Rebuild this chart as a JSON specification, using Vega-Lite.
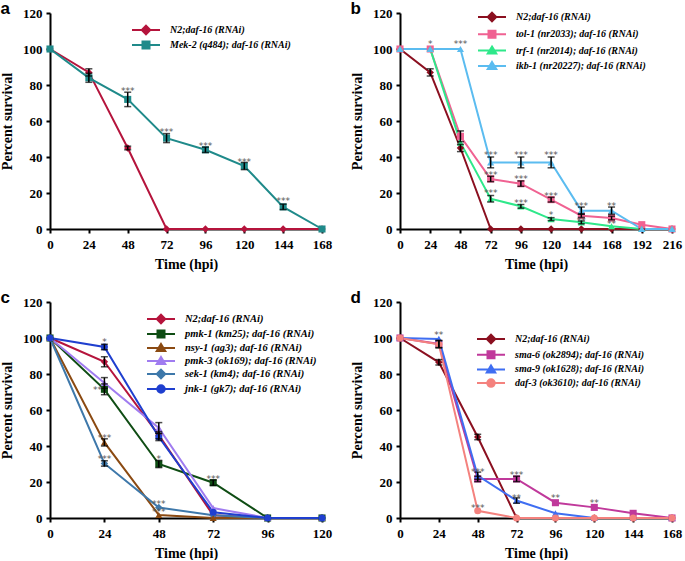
{
  "$schema": "https://vega.github.io/schema/vega-lite/v6.json",
  "padding": {"left": 0, "top": 0, "right": 2, "bottom": 0},
  "spacing": 18,
  "config": {
    "view": {"stroke": null},
    "concat": {"spacing": 18},
    "axis": {"grid": false, "domainColor": "black", "domainWidth": 2, "tickColor": "black", "tickWidth": 2, "tickSize": 4, "labelFont": "Liberation Serif", "labelFontSize": 13, "labelFontWeight": "bold", "labelColor": "black", "titleFont": "Liberation Serif", "titleFontSize": 14, "titleFontWeight": "bold", "titleColor": "black", "labelOverlap": false, "labelFlush": false},
    "axisX": {"labelPadding": 5, "titlePadding": 6},
    "axisY": {"labelPadding": 4, "titlePadding": 8},
    "title": {"anchor": "start", "frame": "bounds", "font": "Liberation Sans", "fontSize": 17, "fontWeight": "bold", "color": "black", "offset": -11},
    "legend": {"orient": "none", "title": null, "labelFont": "Liberation Serif", "labelFontSize": 10, "labelFontWeight": "bold", "labelFontStyle": "italic", "labelColor": "black", "symbolSize": 100, "labelOffset": 18, "padding": 0, "labelLimit": 400}
  },
  "resolve": {"scale": {"color": "independent"}, "legend": {"color": "independent"}},
  "vconcat": [
    {
      "spacing": 18,
      "resolve": {"scale": {"color": "independent"}, "legend": {"color": "independent"}},
      "hconcat": [
        {
          "width": 272, "height": 216,
          "title": "a",
          "data": {"values": [
            {"g": "N2;daf-16 (RNAi)", "t": 0, "s": 100},
            {"g": "N2;daf-16 (RNAi)", "t": 24, "s": 87, "lo": 85, "hi": 89},
            {"g": "N2;daf-16 (RNAi)", "t": 48, "s": 45, "lo": 44, "hi": 46},
            {"g": "N2;daf-16 (RNAi)", "t": 72, "s": 0},
            {"g": "N2;daf-16 (RNAi)", "t": 96, "s": 0},
            {"g": "N2;daf-16 (RNAi)", "t": 120, "s": 0},
            {"g": "N2;daf-16 (RNAi)", "t": 144, "s": 0},
            {"g": "N2;daf-16 (RNAi)", "t": 168, "s": 0},
            {"g": "Mek-2 (q484); daf-16 (RNAi)", "t": 0, "s": 100},
            {"g": "Mek-2 (q484); daf-16 (RNAi)", "t": 24, "s": 84, "lo": 81.5, "hi": 86.5},
            {"g": "Mek-2 (q484); daf-16 (RNAi)", "t": 48, "s": 72, "lo": 68, "hi": 76},
            {"g": "Mek-2 (q484); daf-16 (RNAi)", "t": 72, "s": 50.5, "lo": 48, "hi": 53},
            {"g": "Mek-2 (q484); daf-16 (RNAi)", "t": 96, "s": 44, "lo": 42.5, "hi": 45.5},
            {"g": "Mek-2 (q484); daf-16 (RNAi)", "t": 120, "s": 35, "lo": 33, "hi": 37},
            {"g": "Mek-2 (q484); daf-16 (RNAi)", "t": 144, "s": 12.3, "lo": 10.8, "hi": 13.8},
            {"g": "Mek-2 (q484); daf-16 (RNAi)", "t": 168, "s": 0}
          ]},
          "encoding": {
            "x": {"field": "t", "type": "quantitative", "scale": {"domain": [0, 168], "nice": false}, "axis": {"values": [0, 24, 48, 72, 96, 120, 144, 168], "title": "Time (hpi)"}},
            "y": {"field": "s", "type": "quantitative", "scale": {"domain": [0, 120], "nice": false}, "axis": {"values": [0, 20, 40, 60, 80, 100, 120], "title": "Percent survival"}},
            "color": {"field": "g", "type": "nominal", "scale": {"domain": ["N2;daf-16 (RNAi)", "Mek-2 (q484); daf-16 (RNAi)"], "range": ["#b5143c", "#1f8a8a"]},
              "legend": {"legendX": 90, "legendY": 11, "rowPadding": -4,
                "encoding": {"symbols": {
                  "shape": {"value": {"expr": "['M-2.8,0H2.8M0,-0.85L0.85,0L0,0.85L-0.85,0Z','M-2.8,0H2.8M-0.7,-0.7H0.7V0.7H-0.7Z'][indexof(['N2;daf-16 (RNAi)','Mek-2 (q484); daf-16 (RNAi)'], datum.value)]"}},
                  "fill": {"value": {"expr": "['#b5143c','#1f8a8a'][indexof(['N2;daf-16 (RNAi)','Mek-2 (q484); daf-16 (RNAi)'], datum.value)]"}},
                  "stroke": {"value": {"expr": "['#b5143c','#1f8a8a'][indexof(['N2;daf-16 (RNAi)','Mek-2 (q484); daf-16 (RNAi)'], datum.value)]"}},
                  "size": {"value": 100},
                  "strokeWidth": {"value": 2}, "opacity": {"value": 1}}}}}
          },
          "layer": [
            {"mark": {"type": "line", "strokeWidth": 2}},
            {"transform": [{"filter": {"field": "g", "oneOf": ["N2;daf-16 (RNAi)"]}}], "mark": {"type": "point", "shape": "diamond", "filled": true, "size": 55, "opacity": 1}},
            {"transform": [{"filter": {"field": "g", "oneOf": ["Mek-2 (q484); daf-16 (RNAi)"]}}], "mark": {"type": "point", "shape": "square", "filled": true, "size": 50, "opacity": 1}},
            {"transform": [{"filter": "isValid(datum.lo)"}],
             "mark": {"type": "errorbar", "ticks": {"size": 7}, "thickness": 1.5},
             "encoding": {"y": {"field": "lo", "type": "quantitative", "title": "Percent survival"}, "y2": {"field": "hi"}, "color": {"value": "black"}}},
            {"data": {"values": [
              {"t": 48, "y": 78, "txt": "***"},
              {"t": 72, "y": 55, "txt": "***"},
              {"t": 96, "y": 47, "txt": "***"},
              {"t": 120, "y": 38.5, "txt": "***"},
              {"t": 144, "y": 16.5, "txt": "***"}
            ]},
             "mark": {"type": "text", "font": "DejaVu Sans", "fontSize": 9, "baseline": "middle", "dy": 2},
             "encoding": {"y": {"field": "y", "type": "quantitative", "title": "Percent survival"}, "text": {"field": "txt"}, "color": {"value": "#555555"}}}
          ]
        },
        {
          "width": 272, "height": 216,
          "title": "b",
          "data": {"values": [
            {"g": "N2;daf-16 (RNAi)", "t": 0, "s": 100},
            {"g": "N2;daf-16 (RNAi)", "t": 24, "s": 87, "lo": 85, "hi": 89},
            {"g": "N2;daf-16 (RNAi)", "t": 48, "s": 45, "lo": 43, "hi": 47},
            {"g": "N2;daf-16 (RNAi)", "t": 72, "s": 0},
            {"g": "N2;daf-16 (RNAi)", "t": 96, "s": 0},
            {"g": "N2;daf-16 (RNAi)", "t": 120, "s": 0},
            {"g": "N2;daf-16 (RNAi)", "t": 144, "s": 0},
            {"g": "N2;daf-16 (RNAi)", "t": 168, "s": 0},
            {"g": "N2;daf-16 (RNAi)", "t": 192, "s": 0},
            {"g": "N2;daf-16 (RNAi)", "t": 216, "s": 0},
            {"g": "tol-1 (nr2033); daf-16 (RNAi)", "t": 0, "s": 100},
            {"g": "tol-1 (nr2033); daf-16 (RNAi)", "t": 24, "s": 100},
            {"g": "tol-1 (nr2033); daf-16 (RNAi)", "t": 48, "s": 51.5, "lo": 48.5, "hi": 54.5},
            {"g": "tol-1 (nr2033); daf-16 (RNAi)", "t": 72, "s": 27.8, "lo": 26.3, "hi": 29.3},
            {"g": "tol-1 (nr2033); daf-16 (RNAi)", "t": 96, "s": 25.2, "lo": 23.7, "hi": 26.7},
            {"g": "tol-1 (nr2033); daf-16 (RNAi)", "t": 120, "s": 16.3, "lo": 15, "hi": 17.6},
            {"g": "tol-1 (nr2033); daf-16 (RNAi)", "t": 144, "s": 7.4, "lo": 6.4, "hi": 8.4},
            {"g": "tol-1 (nr2033); daf-16 (RNAi)", "t": 168, "s": 6.1, "lo": 5.1, "hi": 7.1},
            {"g": "tol-1 (nr2033); daf-16 (RNAi)", "t": 192, "s": 2.4},
            {"g": "tol-1 (nr2033); daf-16 (RNAi)", "t": 216, "s": 0},
            {"g": "trf-1 (nr2014); daf-16 (RNAi)", "t": 0, "s": 100},
            {"g": "trf-1 (nr2014); daf-16 (RNAi)", "t": 24, "s": 100},
            {"g": "trf-1 (nr2014); daf-16 (RNAi)", "t": 48, "s": 48},
            {"g": "trf-1 (nr2014); daf-16 (RNAi)", "t": 72, "s": 16.8, "lo": 15, "hi": 18.6},
            {"g": "trf-1 (nr2014); daf-16 (RNAi)", "t": 96, "s": 12.6, "lo": 11.6, "hi": 13.6},
            {"g": "trf-1 (nr2014); daf-16 (RNAi)", "t": 120, "s": 5.5, "lo": 4.7, "hi": 6.3},
            {"g": "trf-1 (nr2014); daf-16 (RNAi)", "t": 144, "s": 3.7, "lo": 2.9, "hi": 4.5},
            {"g": "trf-1 (nr2014); daf-16 (RNAi)", "t": 168, "s": 1.5},
            {"g": "trf-1 (nr2014); daf-16 (RNAi)", "t": 192, "s": 0},
            {"g": "trf-1 (nr2014); daf-16 (RNAi)", "t": 216, "s": 0},
            {"g": "ikb-1 (nr20227); daf-16 (RNAi)", "t": 0, "s": 100},
            {"g": "ikb-1 (nr20227); daf-16 (RNAi)", "t": 24, "s": 100},
            {"g": "ikb-1 (nr20227); daf-16 (RNAi)", "t": 48, "s": 100},
            {"g": "ikb-1 (nr20227); daf-16 (RNAi)", "t": 72, "s": 37, "lo": 34, "hi": 40},
            {"g": "ikb-1 (nr20227); daf-16 (RNAi)", "t": 96, "s": 37, "lo": 34, "hi": 40},
            {"g": "ikb-1 (nr20227); daf-16 (RNAi)", "t": 120, "s": 37, "lo": 34, "hi": 40},
            {"g": "ikb-1 (nr20227); daf-16 (RNAi)", "t": 144, "s": 10.2, "lo": 8.2, "hi": 12.2},
            {"g": "ikb-1 (nr20227); daf-16 (RNAi)", "t": 168, "s": 10.2, "lo": 8.2, "hi": 12.2},
            {"g": "ikb-1 (nr20227); daf-16 (RNAi)", "t": 192, "s": 0},
            {"g": "ikb-1 (nr20227); daf-16 (RNAi)", "t": 216, "s": 0}
          ]},
          "encoding": {
            "x": {"field": "t", "type": "quantitative", "scale": {"domain": [0, 216], "nice": false}, "axis": {"values": [0, 24, 48, 72, 96, 120, 144, 168, 192, 216], "title": "Time (hpi)"}},
            "y": {"field": "s", "type": "quantitative", "scale": {"domain": [0, 120], "nice": false}, "axis": {"values": [0, 20, 40, 60, 80, 100, 120], "title": "Percent survival"}},
            "color": {"field": "g", "type": "nominal", "scale": {"domain": ["N2;daf-16 (RNAi)", "tol-1 (nr2033); daf-16 (RNAi)", "trf-1 (nr2014); daf-16 (RNAi)", "ikb-1 (nr20227); daf-16 (RNAi)"], "range": ["#8b1020", "#f06292", "#2ee88a", "#5bbcf0"]},
              "legend": {"legendX": 86, "legendY": -2, "rowPadding": 0.3,
                "encoding": {"symbols": {
                  "shape": {"value": {"expr": "['M-2.8,0H2.8M0,-0.85L0.85,0L0,0.85L-0.85,0Z','M-2.8,0H2.8M-0.7,-0.7H0.7V0.7H-0.7Z','M-2.8,0H2.8M0,-0.8L0.85,0.6H-0.85Z','M-2.8,0H2.8M0,-0.8L0.85,0.6H-0.85Z'][indexof(['N2;daf-16 (RNAi)','tol-1 (nr2033); daf-16 (RNAi)','trf-1 (nr2014); daf-16 (RNAi)','ikb-1 (nr20227); daf-16 (RNAi)'], datum.value)]"}},
                  "fill": {"value": {"expr": "['#8b1020','#f06292','#2ee88a','#5bbcf0'][indexof(['N2;daf-16 (RNAi)','tol-1 (nr2033); daf-16 (RNAi)','trf-1 (nr2014); daf-16 (RNAi)','ikb-1 (nr20227); daf-16 (RNAi)'], datum.value)]"}},
                  "stroke": {"value": {"expr": "['#8b1020','#f06292','#2ee88a','#5bbcf0'][indexof(['N2;daf-16 (RNAi)','tol-1 (nr2033); daf-16 (RNAi)','trf-1 (nr2014); daf-16 (RNAi)','ikb-1 (nr20227); daf-16 (RNAi)'], datum.value)]"}},
                  "size": {"value": 100},
                  "strokeWidth": {"value": 2}, "opacity": {"value": 1}}}}}
          },
          "layer": [
            {"mark": {"type": "line", "strokeWidth": 2}},
            {"transform": [{"filter": {"field": "g", "oneOf": ["N2;daf-16 (RNAi)"]}}], "mark": {"type": "point", "shape": "diamond", "filled": true, "size": 55, "opacity": 1}},
            {"transform": [{"filter": {"field": "g", "oneOf": ["tol-1 (nr2033); daf-16 (RNAi)"]}}], "mark": {"type": "point", "shape": "square", "filled": true, "size": 50, "opacity": 1}},
            {"transform": [{"filter": {"field": "g", "oneOf": ["trf-1 (nr2014); daf-16 (RNAi)", "ikb-1 (nr20227); daf-16 (RNAi)"]}}], "mark": {"type": "point", "shape": "triangle-up", "filled": true, "size": 50, "opacity": 1}},
            {"transform": [{"filter": "isValid(datum.lo)"}],
             "mark": {"type": "errorbar", "ticks": {"size": 7}, "thickness": 1.5},
             "encoding": {"y": {"field": "lo", "type": "quantitative", "title": "Percent survival"}, "y2": {"field": "hi"}, "color": {"value": "black"}}},
            {"data": {"values": [
              {"t": 24, "y": 103.7, "txt": "*"},
              {"t": 48, "y": 103.7, "txt": "***"},
              {"t": 72, "y": 42, "txt": "***"},
              {"t": 72, "y": 31, "txt": "***"},
              {"t": 72, "y": 21, "txt": "***"},
              {"t": 96, "y": 42, "txt": "***"},
              {"t": 96, "y": 29, "txt": "***"},
              {"t": 96, "y": 15.5, "txt": "***"},
              {"t": 120, "y": 42, "txt": "***"},
              {"t": 120, "y": 19.5, "txt": "***"},
              {"t": 120, "y": 9, "txt": "*"},
              {"t": 144, "y": 14, "txt": "***"},
              {"t": 144, "y": 5.5, "txt": "**"},
              {"t": 168, "y": 14, "txt": "**"},
              {"t": 168, "y": 4, "txt": "**"}
            ]},
             "mark": {"type": "text", "font": "DejaVu Sans", "fontSize": 9, "baseline": "middle", "dy": 2},
             "encoding": {"y": {"field": "y", "type": "quantitative", "title": "Percent survival"}, "text": {"field": "txt"}, "color": {"value": "#555555"}}}
          ]
        }
      ]
    },
    {
      "spacing": 18,
      "resolve": {"scale": {"color": "independent"}, "legend": {"color": "independent"}},
      "hconcat": [
        {
          "width": 272, "height": 216,
          "title": "c",
          "data": {"values": [
            {"g": "N2;daf-16 (RNAi)", "t": 0, "s": 100},
            {"g": "N2;daf-16 (RNAi)", "t": 24, "s": 86.8, "lo": 84, "hi": 89.6},
            {"g": "N2;daf-16 (RNAi)", "t": 48, "s": 46, "lo": 44, "hi": 48},
            {"g": "N2;daf-16 (RNAi)", "t": 72, "s": 1.5},
            {"g": "N2;daf-16 (RNAi)", "t": 96, "s": 0},
            {"g": "N2;daf-16 (RNAi)", "t": 120, "s": 0},
            {"g": "pmk-1 (km25); daf-16 (RNAi)", "t": 0, "s": 100},
            {"g": "pmk-1 (km25); daf-16 (RNAi)", "t": 24, "s": 71.5, "lo": 68.5, "hi": 74.5},
            {"g": "pmk-1 (km25); daf-16 (RNAi)", "t": 48, "s": 30, "lo": 28, "hi": 32},
            {"g": "pmk-1 (km25); daf-16 (RNAi)", "t": 72, "s": 19.6, "lo": 18.1, "hi": 21.1},
            {"g": "pmk-1 (km25); daf-16 (RNAi)", "t": 96, "s": 0},
            {"g": "pmk-1 (km25); daf-16 (RNAi)", "t": 120, "s": 0},
            {"g": "nsy-1 (ag3); daf-16 (RNAi)", "t": 0, "s": 100},
            {"g": "nsy-1 (ag3); daf-16 (RNAi)", "t": 24, "s": 42, "lo": 40, "hi": 44},
            {"g": "nsy-1 (ag3); daf-16 (RNAi)", "t": 48, "s": 1.7},
            {"g": "nsy-1 (ag3); daf-16 (RNAi)", "t": 72, "s": 0},
            {"g": "nsy-1 (ag3); daf-16 (RNAi)", "t": 96, "s": 0},
            {"g": "nsy-1 (ag3); daf-16 (RNAi)", "t": 120, "s": 0},
            {"g": "pmk-3 (ok169); daf-16 (RNAi)", "t": 0, "s": 100},
            {"g": "pmk-3 (ok169); daf-16 (RNAi)", "t": 24, "s": 75, "lo": 72, "hi": 78},
            {"g": "pmk-3 (ok169); daf-16 (RNAi)", "t": 48, "s": 50, "lo": 47, "hi": 53},
            {"g": "pmk-3 (ok169); daf-16 (RNAi)", "t": 72, "s": 5.5},
            {"g": "pmk-3 (ok169); daf-16 (RNAi)", "t": 96, "s": 0},
            {"g": "pmk-3 (ok169); daf-16 (RNAi)", "t": 120, "s": 0},
            {"g": "sek-1 (km4); daf-16 (RNAi)", "t": 0, "s": 100},
            {"g": "sek-1 (km4); daf-16 (RNAi)", "t": 24, "s": 30.3, "lo": 28.8, "hi": 31.8},
            {"g": "sek-1 (km4); daf-16 (RNAi)", "t": 48, "s": 5.8},
            {"g": "sek-1 (km4); daf-16 (RNAi)", "t": 72, "s": 1.5},
            {"g": "sek-1 (km4); daf-16 (RNAi)", "t": 96, "s": 0},
            {"g": "sek-1 (km4); daf-16 (RNAi)", "t": 120, "s": 0},
            {"g": "jnk-1 (gk7); daf-16 (RNAi)", "t": 0, "s": 100},
            {"g": "jnk-1 (gk7); daf-16 (RNAi)", "t": 24, "s": 95, "lo": 93.5, "hi": 96.5},
            {"g": "jnk-1 (gk7); daf-16 (RNAi)", "t": 48, "s": 45, "lo": 43, "hi": 47},
            {"g": "jnk-1 (gk7); daf-16 (RNAi)", "t": 72, "s": 3.2},
            {"g": "jnk-1 (gk7); daf-16 (RNAi)", "t": 96, "s": 0},
            {"g": "jnk-1 (gk7); daf-16 (RNAi)", "t": 120, "s": 0}
          ]},
          "encoding": {
            "x": {"field": "t", "type": "quantitative", "scale": {"domain": [0, 120], "nice": false}, "axis": {"values": [0, 24, 48, 72, 96, 120], "title": "Time (hpi)"}},
            "y": {"field": "s", "type": "quantitative", "scale": {"domain": [0, 120], "nice": false}, "axis": {"values": [0, 20, 40, 60, 80, 100, 120], "title": "Percent survival"}},
            "color": {"field": "g", "type": "nominal", "scale": {"domain": ["N2;daf-16 (RNAi)", "pmk-1 (km25); daf-16 (RNAi)", "nsy-1 (ag3); daf-16 (RNAi)", "pmk-3 (ok169); daf-16 (RNAi)", "sek-1 (km4); daf-16 (RNAi)", "jnk-1 (gk7); daf-16 (RNAi)"], "range": ["#b5143c", "#0f4d14", "#8b4a12", "#a07cf0", "#3e78aa", "#1f3fcf"]},
              "legend": {"legendX": 105, "legendY": 11, "rowPadding": -3.8, "labelFontSize": 10.5,
                "encoding": {"symbols": {
                  "shape": {"value": {"expr": "['M-2.8,0H2.8M0,-0.85L0.85,0L0,0.85L-0.85,0Z','M-2.8,0H2.8M-0.7,-0.7H0.7V0.7H-0.7Z','M-2.8,0H2.8M0,-0.8L0.85,0.6H-0.85Z','M-2.8,0H2.8M0,-0.8L0.85,0.6H-0.85Z','M-2.8,0H2.8M0,-0.85L0.85,0L0,0.85L-0.85,0Z','M-2.8,0H2.8M-0.75,0A0.75,0.75 0 1,0 0.75,0A0.75,0.75 0 1,0 -0.75,0Z'][indexof(['N2;daf-16 (RNAi)','pmk-1 (km25); daf-16 (RNAi)','nsy-1 (ag3); daf-16 (RNAi)','pmk-3 (ok169); daf-16 (RNAi)','sek-1 (km4); daf-16 (RNAi)','jnk-1 (gk7); daf-16 (RNAi)'], datum.value)]"}},
                  "fill": {"value": {"expr": "['#b5143c','#0f4d14','#8b4a12','#a07cf0','#3e78aa','#1f3fcf'][indexof(['N2;daf-16 (RNAi)','pmk-1 (km25); daf-16 (RNAi)','nsy-1 (ag3); daf-16 (RNAi)','pmk-3 (ok169); daf-16 (RNAi)','sek-1 (km4); daf-16 (RNAi)','jnk-1 (gk7); daf-16 (RNAi)'], datum.value)]"}},
                  "stroke": {"value": {"expr": "['#b5143c','#0f4d14','#8b4a12','#a07cf0','#3e78aa','#1f3fcf'][indexof(['N2;daf-16 (RNAi)','pmk-1 (km25); daf-16 (RNAi)','nsy-1 (ag3); daf-16 (RNAi)','pmk-3 (ok169); daf-16 (RNAi)','sek-1 (km4); daf-16 (RNAi)','jnk-1 (gk7); daf-16 (RNAi)'], datum.value)]"}},
                  "size": {"value": 100},
                  "strokeWidth": {"value": 2}, "opacity": {"value": 1}}}}}
          },
          "layer": [
            {"mark": {"type": "line", "strokeWidth": 2}},
            {"transform": [{"filter": {"field": "g", "oneOf": ["N2;daf-16 (RNAi)", "sek-1 (km4); daf-16 (RNAi)"]}}], "mark": {"type": "point", "shape": "diamond", "filled": true, "size": 55, "opacity": 1}},
            {"transform": [{"filter": {"field": "g", "oneOf": ["pmk-1 (km25); daf-16 (RNAi)"]}}], "mark": {"type": "point", "shape": "square", "filled": true, "size": 50, "opacity": 1}},
            {"transform": [{"filter": {"field": "g", "oneOf": ["nsy-1 (ag3); daf-16 (RNAi)", "pmk-3 (ok169); daf-16 (RNAi)"]}}], "mark": {"type": "point", "shape": "triangle-up", "filled": true, "size": 50, "opacity": 1}},
            {"transform": [{"filter": {"field": "g", "oneOf": ["jnk-1 (gk7); daf-16 (RNAi)"]}}], "mark": {"type": "point", "shape": "circle", "filled": true, "size": 50, "opacity": 1}},
            {"transform": [{"filter": "isValid(datum.lo)"}],
             "mark": {"type": "errorbar", "ticks": {"size": 7}, "thickness": 1.5},
             "encoding": {"y": {"field": "lo", "type": "quantitative", "title": "Percent survival"}, "y2": {"field": "hi"}, "color": {"value": "black"}}},
            {"data": {"values": [
              {"t": 24, "y": 99, "txt": "*"},
              {"t": 21, "y": 72, "txt": "**"},
              {"t": 24, "y": 45.5, "txt": "***"},
              {"t": 24, "y": 33.8, "txt": "***"},
              {"t": 48, "y": 34, "txt": "*"},
              {"t": 48, "y": 9, "txt": "***"},
              {"t": 48, "y": 4.4, "txt": "***"},
              {"t": 72, "y": 23, "txt": "***"}
            ]},
             "mark": {"type": "text", "font": "DejaVu Sans", "fontSize": 9, "baseline": "middle", "dy": 2},
             "encoding": {"y": {"field": "y", "type": "quantitative", "title": "Percent survival"}, "text": {"field": "txt"}, "color": {"value": "#555555"}}}
          ]
        },
        {
          "width": 272, "height": 216,
          "title": "d",
          "data": {"values": [
            {"g": "N2;daf-16 (RNAi)", "t": 0, "s": 100},
            {"g": "N2;daf-16 (RNAi)", "t": 24, "s": 86.5, "lo": 85, "hi": 88},
            {"g": "N2;daf-16 (RNAi)", "t": 48, "s": 45, "lo": 43.5, "hi": 46.5},
            {"g": "N2;daf-16 (RNAi)", "t": 72, "s": 0},
            {"g": "N2;daf-16 (RNAi)", "t": 96, "s": 0},
            {"g": "N2;daf-16 (RNAi)", "t": 120, "s": 0},
            {"g": "N2;daf-16 (RNAi)", "t": 144, "s": 0},
            {"g": "N2;daf-16 (RNAi)", "t": 168, "s": 0},
            {"g": "sma-6 (ok2894); daf-16 (RNAi)", "t": 0, "s": 100},
            {"g": "sma-6 (ok2894); daf-16 (RNAi)", "t": 24, "s": 96.7, "lo": 94.7, "hi": 98.7},
            {"g": "sma-6 (ok2894); daf-16 (RNAi)", "t": 48, "s": 21.7, "lo": 20.2, "hi": 23.2},
            {"g": "sma-6 (ok2894); daf-16 (RNAi)", "t": 72, "s": 21.7, "lo": 20.2, "hi": 23.2},
            {"g": "sma-6 (ok2894); daf-16 (RNAi)", "t": 96, "s": 8.5},
            {"g": "sma-6 (ok2894); daf-16 (RNAi)", "t": 120, "s": 5.9},
            {"g": "sma-6 (ok2894); daf-16 (RNAi)", "t": 144, "s": 2.6},
            {"g": "sma-6 (ok2894); daf-16 (RNAi)", "t": 168, "s": 0},
            {"g": "sma-9 (ok1628); daf-16 (RNAi)", "t": 0, "s": 100},
            {"g": "sma-9 (ok1628); daf-16 (RNAi)", "t": 24, "s": 99.5},
            {"g": "sma-9 (ok1628); daf-16 (RNAi)", "t": 48, "s": 23.5, "lo": 21.5, "hi": 25.5},
            {"g": "sma-9 (ok1628); daf-16 (RNAi)", "t": 72, "s": 9.7, "lo": 8.2, "hi": 11.2},
            {"g": "sma-9 (ok1628); daf-16 (RNAi)", "t": 96, "s": 2.6},
            {"g": "sma-9 (ok1628); daf-16 (RNAi)", "t": 120, "s": 0},
            {"g": "sma-9 (ok1628); daf-16 (RNAi)", "t": 144, "s": 0},
            {"g": "sma-9 (ok1628); daf-16 (RNAi)", "t": 168, "s": 0},
            {"g": "daf-3 (ok3610); daf-16 (RNAi)", "t": 0, "s": 100},
            {"g": "daf-3 (ok3610); daf-16 (RNAi)", "t": 24, "s": 96.5, "lo": 94.5, "hi": 98.5},
            {"g": "daf-3 (ok3610); daf-16 (RNAi)", "t": 48, "s": 4},
            {"g": "daf-3 (ok3610); daf-16 (RNAi)", "t": 72, "s": 0},
            {"g": "daf-3 (ok3610); daf-16 (RNAi)", "t": 96, "s": 0},
            {"g": "daf-3 (ok3610); daf-16 (RNAi)", "t": 120, "s": 0},
            {"g": "daf-3 (ok3610); daf-16 (RNAi)", "t": 144, "s": 0},
            {"g": "daf-3 (ok3610); daf-16 (RNAi)", "t": 168, "s": 0}
          ]},
          "encoding": {
            "x": {"field": "t", "type": "quantitative", "scale": {"domain": [0, 168], "nice": false}, "axis": {"values": [0, 24, 48, 72, 96, 120, 144, 168], "title": "Time (hpi)"}},
            "y": {"field": "s", "type": "quantitative", "scale": {"domain": [0, 120], "nice": false}, "axis": {"values": [0, 20, 40, 60, 80, 100, 120], "title": "Percent survival"}},
            "color": {"field": "g", "type": "nominal", "scale": {"domain": ["N2;daf-16 (RNAi)", "sma-6 (ok2894); daf-16 (RNAi)", "sma-9 (ok1628); daf-16 (RNAi)", "daf-3 (ok3610); daf-16 (RNAi)"], "range": ["#8b1020", "#c0399b", "#3f6ef2", "#f4827e"]},
              "legend": {"legendX": 85, "legendY": 31, "rowPadding": -1.3,
                "encoding": {"symbols": {
                  "shape": {"value": {"expr": "['M-2.8,0H2.8M0,-0.85L0.85,0L0,0.85L-0.85,0Z','M-2.8,0H2.8M-0.7,-0.7H0.7V0.7H-0.7Z','M-2.8,0H2.8M0,-0.8L0.85,0.6H-0.85Z','M-2.8,0H2.8M-0.75,0A0.75,0.75 0 1,0 0.75,0A0.75,0.75 0 1,0 -0.75,0Z'][indexof(['N2;daf-16 (RNAi)','sma-6 (ok2894); daf-16 (RNAi)','sma-9 (ok1628); daf-16 (RNAi)','daf-3 (ok3610); daf-16 (RNAi)'], datum.value)]"}},
                  "fill": {"value": {"expr": "['#8b1020','#c0399b','#3f6ef2','#f4827e'][indexof(['N2;daf-16 (RNAi)','sma-6 (ok2894); daf-16 (RNAi)','sma-9 (ok1628); daf-16 (RNAi)','daf-3 (ok3610); daf-16 (RNAi)'], datum.value)]"}},
                  "stroke": {"value": {"expr": "['#8b1020','#c0399b','#3f6ef2','#f4827e'][indexof(['N2;daf-16 (RNAi)','sma-6 (ok2894); daf-16 (RNAi)','sma-9 (ok1628); daf-16 (RNAi)','daf-3 (ok3610); daf-16 (RNAi)'], datum.value)]"}},
                  "size": {"value": 100},
                  "strokeWidth": {"value": 2}, "opacity": {"value": 1}}}}}
          },
          "layer": [
            {"mark": {"type": "line", "strokeWidth": 2}},
            {"transform": [{"filter": {"field": "g", "oneOf": ["N2;daf-16 (RNAi)"]}}], "mark": {"type": "point", "shape": "diamond", "filled": true, "size": 55, "opacity": 1}},
            {"transform": [{"filter": {"field": "g", "oneOf": ["sma-6 (ok2894); daf-16 (RNAi)"]}}], "mark": {"type": "point", "shape": "square", "filled": true, "size": 50, "opacity": 1}},
            {"transform": [{"filter": {"field": "g", "oneOf": ["sma-9 (ok1628); daf-16 (RNAi)"]}}], "mark": {"type": "point", "shape": "triangle-up", "filled": true, "size": 50, "opacity": 1}},
            {"transform": [{"filter": {"field": "g", "oneOf": ["daf-3 (ok3610); daf-16 (RNAi)"]}}], "mark": {"type": "point", "shape": "circle", "filled": true, "size": 50, "opacity": 1}},
            {"transform": [{"filter": "isValid(datum.lo)"}],
             "mark": {"type": "errorbar", "ticks": {"size": 7}, "thickness": 1.5},
             "encoding": {"y": {"field": "lo", "type": "quantitative", "title": "Percent survival"}, "y2": {"field": "hi"}, "color": {"value": "black"}}},
            {"data": {"values": [
              {"t": 24, "y": 102.7, "txt": "**"},
              {"t": 48, "y": 26.5, "txt": "***"},
              {"t": 72, "y": 25, "txt": "***"},
              {"t": 72, "y": 12.3, "txt": "**"},
              {"t": 96, "y": 12, "txt": "**"},
              {"t": 120, "y": 9.4, "txt": "**"},
              {"t": 48, "y": 6.6, "txt": "***"}
            ]},
             "mark": {"type": "text", "font": "DejaVu Sans", "fontSize": 9, "baseline": "middle", "dy": 2},
             "encoding": {"y": {"field": "y", "type": "quantitative", "title": "Percent survival"}, "text": {"field": "txt"}, "color": {"value": "#555555"}}}
          ]
        }
      ]
    }
  ]
}
